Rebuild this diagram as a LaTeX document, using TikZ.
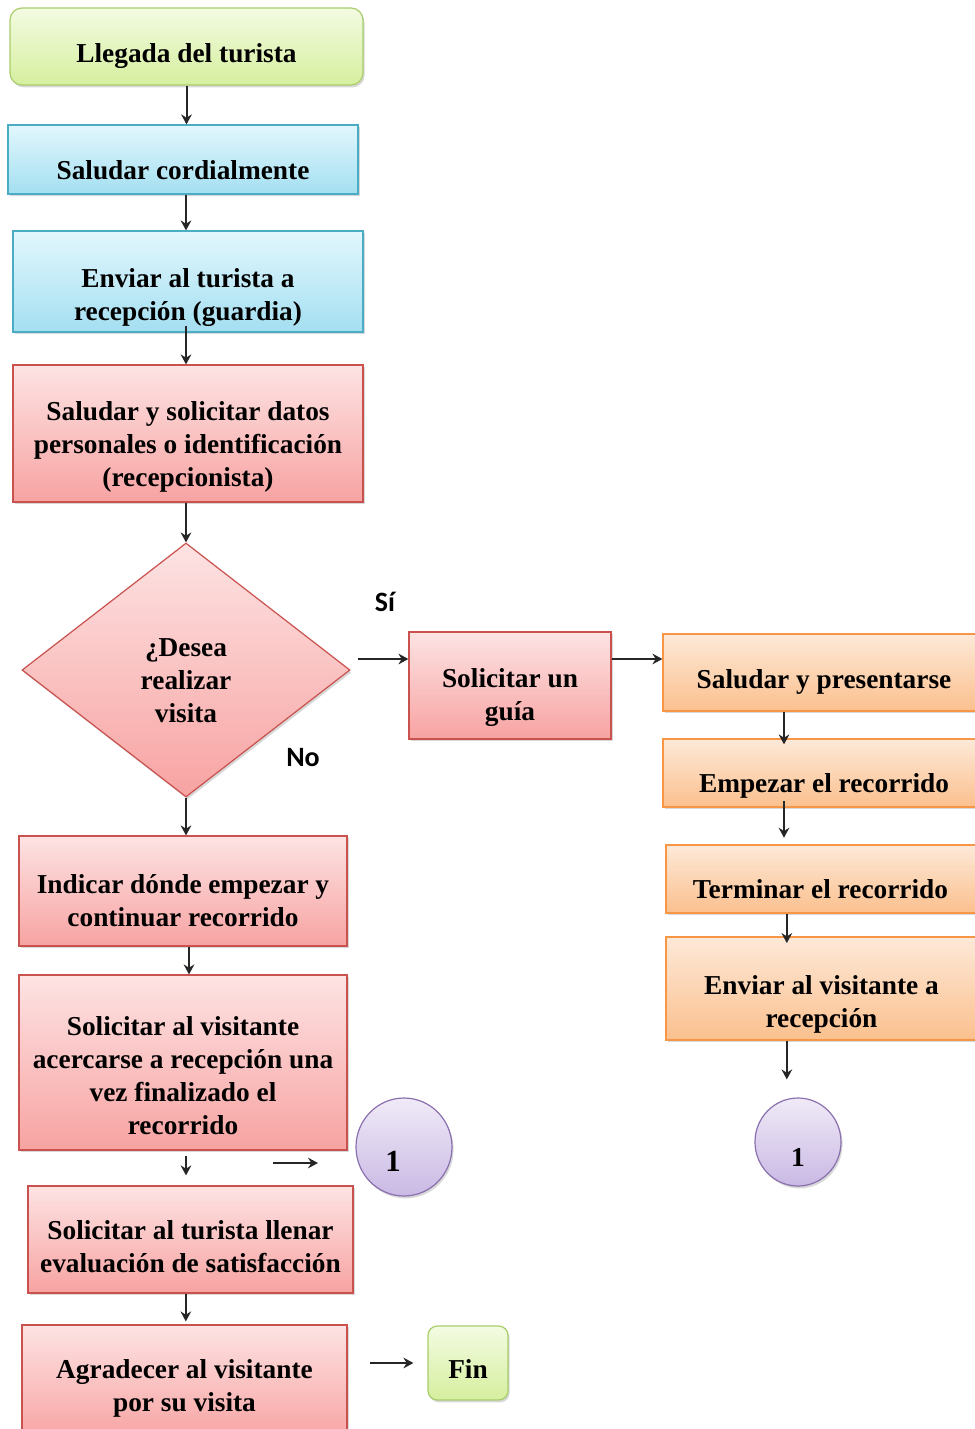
\documentclass[tikz,border=0pt]{standalone}
\usepackage{fontspec}
\setmainfont{Liberation Serif}
\newfontfamily\labfont{Carlito}
\usetikzlibrary{shapes.geometric,arrows.meta,shadows,calc}
\definecolor{grTop}{HTML}{F3FBE2}\definecolor{grBot}{HTML}{D6EF9E}\definecolor{grLine}{HTML}{A9CD6B}
\definecolor{blTop}{HTML}{E2F7FD}\definecolor{blBot}{HTML}{A4DFF1}\definecolor{blLine}{HTML}{4BACC6}
\definecolor{rdTop}{HTML}{FDE3E3}\definecolor{rdBot}{HTML}{F7A3A2}\definecolor{rdLine}{HTML}{C9514E}
\definecolor{orTop}{HTML}{FDE9D8}\definecolor{orBot}{HTML}{FBC08E}\definecolor{orLine}{HTML}{F79646}
\definecolor{puTop}{HTML}{F0EAF7}\definecolor{puBot}{HTML}{C9B9E4}\definecolor{puLine}{HTML}{8A70AE}
\tikzset{
  txt/.style={align=center, font=\bfseries\fontsize{20.5}{24.75}\selectfont, inner sep=0pt},
  T/.style 2 args={label={[txt, yshift=-#1*0.75pt]center:{#2}}},
  base/.style={inner sep=0pt, line width=0.9pt,
    drop shadow={shadow xshift=1.2pt, shadow yshift=-1.8pt, opacity=0.3}},
  greenbox/.style={base, rectangle, rounded corners=9pt, draw=grLine, top color=grTop, bottom color=grBot},
  bluebox/.style={base, rectangle, draw=blLine, top color=blTop, bottom color=blBot},
  redbox/.style={base, rectangle, draw=rdLine, top color=rdTop, bottom color=rdBot},
  orangebox/.style={base, rectangle, draw=orLine, top color=orTop, bottom color=orBot},
  reddiamond/.style={base, diamond, draw=rdLine, top color=rdTop, bottom color=rdBot},
  connector/.style={base, ellipse, draw=puLine, top color=puTop, bottom color=puBot},
  arr/.style={-{Stealth[length=7.5pt,width=8pt,inset=2.5pt]}, line width=1.5pt, black!85},
  lab/.style={font=\labfont\bfseries\fontsize{21}{24}\selectfont, inner sep=0pt}
}
\begin{document}
\begin{tikzpicture}[x=0.75pt,y=-0.75pt]
\useasboundingbox (0,0) rectangle (975,1429);
\clip (0,0) rectangle (975,1429);
\fill[white] (0,0) rectangle (975,1429);

% left column
\node[greenbox, minimum width=264.75pt, minimum height=57.75pt, T={10}{Llegada del turista}] (llegada) at (186.5,46.5) {};
\node[bluebox, minimum width=262.5pt, minimum height=51.75pt, T={10.5}{Saludar cordialmente}] (saludar) at (183,159.5) {};
\node[bluebox, minimum width=262.5pt, minimum height=75.75pt, T={16}{Enviar al turista a\\recepción (guardia)}] (enviar) at (188,281.5) {};
\node[redbox, minimum width=262.5pt, minimum height=102.75pt, T={13.5}{Saludar y solicitar datos\\personales o identificación\\(recepcionista)}] (solic) at (188,433.5) {};
\node[reddiamond, minimum width=246pt, minimum height=190.5pt, T={11}{¿Desea\\realizar\\visita}] (dia) at (186,670) {};
\node[redbox, minimum width=151.5pt, minimum height=80.25pt, T={12.5}{Solicitar un\\guía}] (guia) at (510,685.5) {};
\node[redbox, minimum width=246pt, minimum height=82.5pt, T={10}{Indicar dónde empezar y\\continuar recorrido}] (indicar) at (183,891) {};
\node[redbox, minimum width=246pt, minimum height=131.25pt, T={13}{Solicitar al visitante\\acercarse a recepción una\\vez finalizado el\\recorrido}] (solvis) at (183,1062.5) {};
\node[connector, minimum width=72pt, minimum height=73.5pt, label={[txt, font=\bfseries\fontsize{23}{24}\selectfont, shift={(-11,14)}]center:1}] (c1l) at (404,1147) {};
\node[redbox, minimum width=243.75pt, minimum height=80.25pt, T={7.5}{Solicitar al turista llenar\\evaluación de satisfacción}] (llenar) at (190.5,1239.5) {};
\node[redbox, minimum width=243.75pt, minimum height=86.25pt, T={6}{Agradecer al visitante\\por su visita}] (agradecer) at (184.5,1382.5) {};
\node[greenbox, minimum width=60pt, minimum height=55.5pt, rounded corners=7pt, T={6}{Fin}] (fin) at (468,1363) {};

% right column
\node[orangebox, minimum width=241.5pt, minimum height=57.75pt, T={9}{Saludar y presentarse}] (present) at (824,672.5) {};
\node[orangebox, minimum width=241.5pt, minimum height=51pt, T={12.5}{Empezar el recorrido}] (empezar) at (824,773) {};
\node[orangebox, minimum width=239.25pt, minimum height=51pt, label={[txt, shift={(-5,10.5)}]center:Terminar el recorrido}] (terminar) at (825.5,879) {};
\node[orangebox, minimum width=239.25pt, minimum height=77.25pt, label={[txt, shift={(-4,16)}]center:{Enviar al visitante a\\recepción}}] (enviarv) at (825.5,988.5) {};
\node[connector, minimum width=64.5pt, minimum height=66pt, T={15.5}{1}] (c1r) at (798,1142) {};

% labels
\node[lab] (si) at (385,602) {Sí};
\node[lab] (no) at (303,758) {No};

% connectors
\draw[arr] (llegada.south) -- (llegada.south |- saludar.north);
\draw[arr] ([xshift=2.25pt]saludar.south) -- ([xshift=2.25pt]saludar.south |- enviar.north);
\draw[arr] ([xshift=-1.5pt,yshift=5pt]enviar.south) -- ([xshift=-1.5pt]enviar.south |- solic.north);
\draw[arr] (dia.north |- solic.south) -- (dia.north);
\draw[arr] ([shift={(7,-11)}]dia.east) coordinate (dr) -- (guia.west |- dr);
\draw[arr] ([shift={(0,-26.5)}]guia.east) coordinate (gr) -- (present.west |- gr);
\draw[arr] (dia.south) -- (dia.south |- indicar.north);
\draw[arr] ([xshift=4.5pt]indicar.south) -- ([xshift=4.5pt]indicar.south |- solvis.north);
\draw[arr, shorten <=3.75pt, shorten >=7.5pt] ([xshift=2.25pt]solvis.south) -- ([xshift=2.25pt]solvis.south |- llenar.north);
\coordinate (fa) at (273,1163);
\coordinate (fb) at (318,1163);
\draw[arr] (fa) -- (fb);
\draw[arr, shorten >=2.25pt] ([xshift=-3.5pt]llenar.south) -- ([xshift=-3.5pt]llenar.south |- agradecer.north);
\draw[arr, shorten <=16.5pt, shorten >=10.5pt] (agradecer.east |- fin.west) -- (fin.west);
% right column connectors
\draw[arr, shorten >=-4.5pt] ([xshift=-30pt]present.south) -- ([xshift=-30pt]present.south |- empezar.north);
\draw[arr, shorten <=-5pt, shorten >=5pt] ([xshift=-30pt]empezar.south) -- ([xshift=-30pt]empezar.south |- terminar.north);
\draw[arr, shorten >=-5pt] ([xshift=-29pt]terminar.south) -- ([xshift=-29pt]terminar.south |- enviarv.north);
\draw[arr, shorten >=13.5pt] ([xshift=-29pt]enviarv.south) -- ([xshift=-29pt]enviarv.south |- c1r.north);
\end{tikzpicture}
\end{document}
